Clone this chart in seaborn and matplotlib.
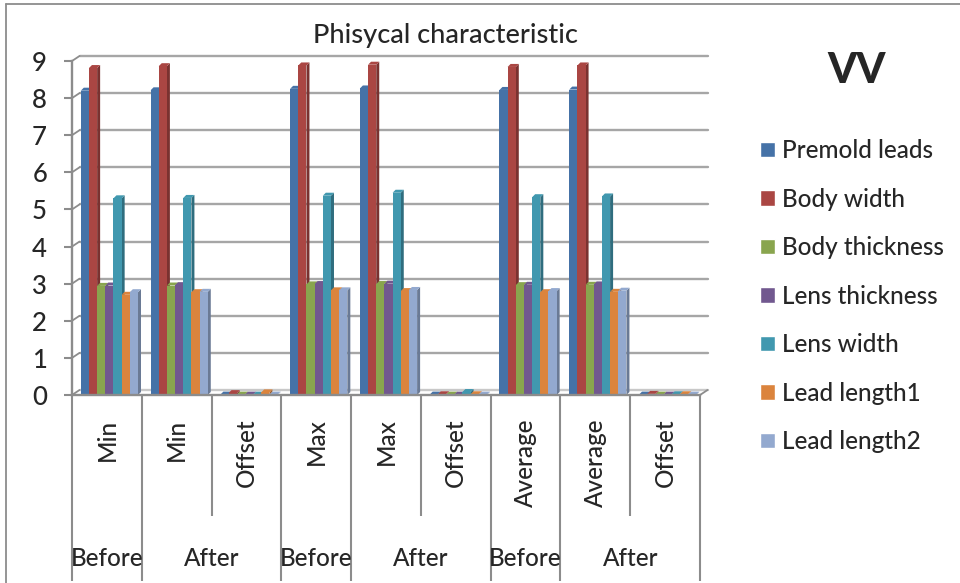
import pandas as pd
import matplotlib
matplotlib.use("Agg")
import matplotlib.pyplot as plt
import matplotlib.colors as mcolors
from matplotlib.lines import Line2D
from matplotlib.patches import Polygon
import seaborn as sns

# values
stats = ["Min", "Min", "Offset", "Max", "Max", "Offset", "Average", "Average", "Offset"]
outer_labels = ["Before", "After", "Before", "After", "Before", "After"]
outer_pos = [0, 1.5, 3, 4.5, 6, 7.5]
long_ticks = [-0.5, 0.5, 2.5, 3.5, 5.5, 6.5, 8.5]
short_ticks = [1.5, 4.5, 7.5]

premold = [8.20, 8.21, 0.01, 8.25, 8.26, 0.01, 8.22, 8.23, 0.01]
body_width = [8.81, 8.86, 0.05, 8.88, 8.90, 0.02, 8.84, 8.88, 0.03]
body_thick = [2.94, 2.95, 0.01, 2.98, 2.99, 0.01, 2.96, 2.97, 0.01]
lens_thick = [2.95, 2.96, 0.01, 2.99, 3.00, 0.01, 2.97, 2.98, 0.01]
lens_width = [5.30, 5.31, 0.01, 5.37, 5.45, 0.08, 5.33, 5.35, 0.02]
lead1 = [2.70, 2.77, 0.07, 2.82, 2.80, 0.02, 2.77, 2.78, 0.02]
lead2 = [2.77, 2.78, 0.01, 2.82, 2.83, 0.01, 2.80, 2.81, 0.01]

series = {
    "Premold leads": premold,
    "Body width": body_width,
    "Body thickness": body_thick,
    "Lens thickness": lens_thick,
    "Lens width": lens_width,
    "Lead length1": lead1,
    "Lead length2": lead2,
}
colors = ["#4572A7", "#AA4643", "#89A54E", "#71588F", "#4198AF", "#DB843D", "#93A9CF"]

rows = []
for name, vals in series.items():
    for i, v in enumerate(vals):
        rows.append({"cat": i, "series": name, "value": v})
df = pd.DataFrame(rows)

sns.set_style("white")
plt.rcParams["font.family"] = ["Lato", "DejaVu Sans"]
plt.rcParams["font.weight"] = "medium"
GREY = "#8c8c8c"
W, H = 960, 583

fig = plt.figure(figsize=(9.6, 5.83), dpi=100)
ax = fig.add_axes([72 / W, (H - 395) / H, 628 / W, 334 / H])

sns.barplot(data=df, x="cat", y="value", hue="series", palette=colors,
            width=0.82, gap=0, saturation=1, ax=ax)
ax.set_xlim(-0.5, 8.5)
ax.set_ylim(0, 9)
ax.set_xlabel("")
ax.set_ylabel("")

# pixels to data units
px_x = 9 / 628
px_y = 9 / 334

# fake 3D: side and top faces built from each bar
n_cat = len(stats)
bars = [p for p in ax.patches if p.get_width() > 0]
for idx, bar in enumerate(bars):
    hue_i = idx // n_cat
    bar.set_x(bar.get_x() + 2.5 * px_x)
    bar.set_edgecolor("none")
    bar.set_zorder(3 + hue_i * 0.1 + 0.05)
    x0, w, h = bar.get_x(), bar.get_width(), bar.get_height()
    x1 = x0 + w
    dx, dy = 3 * px_x, 3 * px_y
    base = mcolors.to_rgb(colors[hue_i])
    dark = tuple(c * 0.72 for c in base)
    ax.add_patch(Polygon([(x1, 0), (x1 + dx, dy), (x1 + dx, h + dy), (x1, h)],
                         fc=dark, ec="none", zorder=3 + hue_i * 0.1, clip_on=False))
    ax.add_patch(Polygon([(x0, h), (x0 + dx, h + dy), (x1 + dx, h + dy), (x1, h)],
                         fc=base, ec="none", zorder=3 + hue_i * 0.1, clip_on=False))

# back wall gridlines, shifted up and right from the front plane
off_x, off_y = 7.5 * px_x, 5 * px_y
for v in range(0, 10):
    col = "#a6a6a6" if v > 0 else "#c8c8c8"
    ax.plot([-0.5 + off_x, 8.5 + off_x], [v + off_y, v + off_y], color=col, lw=1.7,
            zorder=1, clip_on=False)
    ax.plot([-0.5, -0.5 + off_x], [v, v + off_y], color=GREY, lw=1.3, zorder=1, clip_on=False)
ax.plot([8.5, 8.5 + off_x], [0, off_y], color=GREY, lw=1.3, zorder=1, clip_on=False)

ax.set_yticks(range(0, 10))
ax.set_xticks(range(n_cat))
ax.set_xticklabels(stats, rotation=90, fontsize=17.5)
ax.tick_params(axis="y", length=6, width=1.5, color=GREY, pad=12, labelsize=18.5, left=True)
ax.tick_params(axis="x", length=0, pad=17)
for lab in ax.get_xticklabels():
    lab.set_va("top")

for s in ["top", "right"]:
    ax.spines[s].set_visible(False)
for s in ["left", "bottom"]:
    ax.spines[s].set_color(GREY)
    ax.spines[s].set_linewidth(1.7)
    ax.spines[s].set_zorder(6)

# multi level category separators
xt = ax.get_xaxis_transform()
ax.vlines(long_ticks, -186 / 334, 0, color=GREY, lw=1.5, transform=xt, clip_on=False)
ax.vlines(short_ticks, -121 / 334, 0, color=GREY, lw=1.5, transform=xt, clip_on=False)
for pos, lab in zip(outer_pos, outer_labels):
    ax.text(pos, -164 / 334, lab, transform=xt, ha="center", va="center", fontsize=17.5)

ax.text(445 / W, (H - 35) / H, "Phisycal characteristic", transform=fig.transFigure,
        ha="center", va="center", fontsize=19.5)
ax.text(857 / W, (H - 71) / H, "VV", transform=fig.transFigure,
        ha="center", va="center", fontsize=30, fontweight="black")

handles, labels = ax.get_legend_handles_labels()
ax.legend(handles, labels, loc="upper left", bbox_to_anchor=(760 / W, (H - 139) / H),
          bbox_transform=fig.transFigure, frameon=False, fontsize=17.5,
          handlelength=0.62, handleheight=0.62, handletextpad=0.3,
          labelspacing=1.05, borderpad=0, borderaxespad=0)

# chart frame
fig.add_artist(Line2D([6 / W, 6 / W], [0, (H - 4) / H], color=GREY, lw=1.3))
fig.add_artist(Line2D([6 / W, 1], [(H - 4) / H, (H - 4) / H], color=GREY, lw=1.3))

fig.savefig("out.png", dpi=100)
